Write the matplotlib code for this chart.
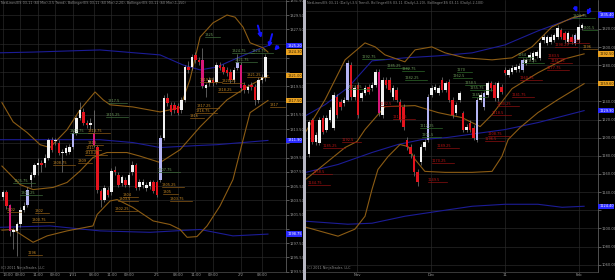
import matplotlib
matplotlib.use('Agg')
import matplotlib.pyplot as plt
import matplotlib.transforms as mtransforms
from matplotlib.patches import Rectangle

# ---------------- LEFT PANEL DATA (ES 03-11, 60 min) ----------------
L_open = [1303.9, 1304.6, 1302.8, 1299.0, 1299.2, 1300.1, 1302.2, 1302.9, 1306.4, 1307.1,
          1308.5, 1308.7, 1308.7, 1309.4, 1312.0, 1311.8, 1311.6, 1310.1, 1310.2, 1310.3,
          1311.0, 1313.0, 1315.0, 1315.9, 1314.4, 1314.1, 1313.0, 1311.0, 1304.8, 1303.6,
          1305.0, 1304.6, 1307.8, 1307.1, 1305.9, 1306.4, 1305.7, 1307.4, 1308.4, 1305.3,
          1305.6, 1305.2, 1305.5, 1306.0, 1306.0, 1306.4, 1312.3, 1317.8, 1316.9, 1316.9,
          1316.8, 1316.2, 1317.6, 1322.2, 1322.2, 1323.9, 1323.2, 1323.2, 1319.3, 1320.0,
          1320.4, 1320.1, 1322.5, 1322.2, 1321.8, 1321.5, 1320.4, 1322.1, 1322.5, 1319.7,
          1319.0, 1319.7, 1319.4, 1317.6, 1320.4, 1320.7]
L_close = [1304.6, 1302.7, 1299.2, 1299.3, 1300.1, 1302.2, 1302.7, 1305.0, 1307.1, 1308.4,
           1308.7, 1308.4, 1309.4, 1312.0, 1310.6, 1312.0, 1310.1, 1310.3, 1310.8, 1311.0,
           1313.0, 1315.0, 1316.2, 1314.4, 1314.1, 1314.3, 1311.3, 1305.0, 1303.6, 1305.2,
           1304.3, 1307.6, 1307.4, 1305.7, 1306.7, 1305.7, 1307.1, 1308.5, 1305.2, 1306.0,
           1306.1, 1305.7, 1306.0, 1304.8, 1304.3, 1312.3, 1317.9, 1317.1, 1315.9, 1316.2,
           1315.8, 1317.6, 1322.2, 1321.8, 1323.6, 1323.2, 1322.9, 1319.6, 1319.7, 1320.4,
           1320.0, 1322.5, 1322.1, 1321.5, 1321.4, 1320.4, 1321.8, 1322.9, 1319.3, 1319.0,
           1319.4, 1319.4, 1317.6, 1320.4, 1320.8, 1323.6]
L_high = [1305.0, 1305.0, 1303.0, 1299.6, 1300.4, 1302.5, 1303.2, 1305.3, 1307.5, 1308.8,
          1309.5, 1309.2, 1310.0, 1312.3, 1312.4, 1312.3, 1312.0, 1310.7, 1311.2, 1311.4,
          1313.3, 1315.3, 1317.3, 1316.5, 1314.8, 1315.0, 1316.2, 1311.3, 1305.1, 1305.6,
          1305.4, 1308.0, 1308.3, 1307.5, 1307.1, 1306.8, 1307.5, 1309.0, 1308.8, 1306.5,
          1306.5, 1306.1, 1306.4, 1306.4, 1306.3, 1312.6, 1318.3, 1318.5, 1317.3, 1317.3,
          1317.2, 1318.0, 1322.5, 1323.0, 1324.0, 1324.3, 1323.6, 1324.9, 1320.0, 1320.8,
          1320.8, 1322.9, 1322.9, 1322.6, 1322.2, 1321.9, 1322.2, 1324.0, 1322.9, 1320.1,
          1319.8, 1320.1, 1319.8, 1320.8, 1321.2, 1324.0]
L_low = [1303.5, 1302.3, 1298.5, 1296.6, 1295.7, 1299.8, 1301.9, 1302.5, 1305.3, 1306.8,
         1307.0, 1307.5, 1308.2, 1309.1, 1310.3, 1311.3, 1309.8, 1307.5, 1309.8, 1310.0,
         1310.7, 1312.7, 1314.7, 1314.1, 1313.6, 1313.5, 1311.0, 1304.5, 1302.5, 1303.3,
         1303.9, 1304.2, 1307.0, 1305.3, 1305.5, 1305.3, 1305.3, 1307.0, 1304.9, 1304.9,
         1305.2, 1304.8, 1305.1, 1304.5, 1303.9, 1306.0, 1312.0, 1316.8, 1315.5, 1315.8,
         1315.4, 1315.8, 1317.3, 1321.4, 1321.8, 1322.8, 1322.5, 1319.3, 1318.0, 1319.6,
         1319.6, 1319.8, 1321.8, 1321.2, 1321.0, 1320.0, 1320.0, 1321.8, 1318.9, 1318.6,
         1318.6, 1319.0, 1316.9, 1317.2, 1320.0, 1320.3]
L_lilac = [7, 20, 45, 67]
L_magenta = [2, 26, 57, 68]

L_bb_up_x = [-0.3, 2.9, 6.9, 10.6, 13.4, 18.3, 22.0, 26.3, 28.6, 30.6, 37.1, 44.9, 50.6, 53.4,
             56.3, 60.0, 64.0, 66.3, 68.6, 70.6, 74.3, 75.7]
L_bb_up_y = [1317.2, 1314.5, 1313.0, 1311.3, 1310.9, 1313.4, 1316.2, 1318.7, 1317.6, 1316.9,
             1316.6, 1315.9, 1316.5, 1320.4, 1326.4, 1328.4, 1329.5, 1329.2, 1327.8, 1325.6,
             1324.9, 1324.3]
L_bb_mid_x = [-0.3, 4.9, 8.6, 14.3, 18.3, 22.0, 25.7, 29.7, 35.4, 39.1, 44.9, 50.6, 56.3, 64.0,
              69.7, 75.7]
L_bb_mid_y = [1308.3, 1305.7, 1305.0, 1305.3, 1306.0, 1307.6, 1309.5, 1310.2, 1310.2, 1309.7,
              1308.8, 1310.6, 1313.8, 1317.6, 1319.4, 1321.0]
L_bb_low_x = [-0.3, 2.9, 8.6, 12.6, 18.3, 25.7, 26.9, 30.6, 32.6, 37.1, 42.9, 47.7, 50.6, 52.6,
              55.4, 58.3, 62.0, 65.7, 68.6, 70.6, 75.7]
L_bb_low_y = [1299.3, 1299.4, 1297.6, 1298.5, 1299.2, 1299.9, 1301.5, 1303.4, 1303.6, 1302.5,
              1300.6, 1300.1, 1299.4, 1298.3, 1298.4, 1299.9, 1302.7, 1306.4, 1312.0, 1315.8,
              1317.5]
L_bl_up_x = [-0.9, 8.6, 27.7, 44.9, 51.4, 56.3, 61.1, 65.7, 73.4, 75.7]
L_bl_up_y = [1324.2, 1324.3, 1324.6, 1323.9, 1322.5, 1321.8, 1322.2, 1323.2, 1324.8, 1325.2]
L_bl_mid_x = [-0.9, 27.7, 37.1, 44.9, 56.3, 61.1, 75.7]
L_bl_mid_y = [1312.0, 1312.0, 1311.6, 1310.9, 1311.2, 1311.3, 1311.9]
L_bl_low_x = [-0.9, 13.4, 27.7, 42.0, 56.3, 65.7, 75.7]
L_bl_low_y = [1299.7, 1299.9, 1299.2, 1299.0, 1299.4, 1298.5, 1298.75]

L_xtick_pos = [0, 5, 10, 15, 20, 26, 31, 36, 44, 50, 55, 60, 68, 74]
L_xtick_lab = ["13:00", "09:00", "11:00", "09:00", "1/31", "08:00", "11:00", "09:00",
               "2/1", "08:00", "11:00", "09:00", "2/2", "08:00"]
L_yticks = [1293.5 + 2 * k for k in range(20)]

L_hi_lab_x = [57.7, 65.4, 70.9, 66.3, 30.0, 29.4, 19.1, 2.9, 4.9, 44.3]
L_hi_lab_y = [1326.4, 1324.2, 1324.2, 1322.9, 1317.1, 1315.2, 1312.9, 1305.9, 1304.2, 1307.4]
L_hi_lab_t = ["1325", "1324.75", "1324.75", "1321.75", "1317.5", "1315.25", "1312.75",
              "1305.75", "1304.25", "1307.75"]
L_lo_lab_x = [56.3, 62.6, 61.4, 69.7, 76.3, 55.4, 54.9, 53.4, 14.3, 21.4, 23.4, 23.7, 24.3,
              24.3, 1.1, 9.1, 8.3, 7.1, 45.4, 45.7, 47.7, 34.3, 32.9, 32.0]
L_lo_lab_y = [1320.1, 1319.9, 1318.7, 1320.8, 1316.6, 1316.4, 1315.8, 1315.1, 1308.4, 1308.7,
              1309.9, 1310.6, 1311.3, 1312.9, 1301.8, 1301.7, 1300.4, 1295.8, 1305.3, 1304.4,
              1303.4, 1303.9, 1303.4, 1302.0]
L_lo_lab_t = ["1319.25", "1320.25", "1318.25", "1321.25", "1317", "1317.25", "1316.75",
              "1316", "1308.75", "1309", "1310.25", "1311", "1313", "1313.75", "1302", "1302",
              "1300.75", "1296", "1305.25", "1305", "1303.75", "1304", "1303.5", "1302.25"]

# ---------------- RIGHT PANEL DATA (ES 03-11, Daily) ----------------
R_open = [1181.5, 1220.0, 1195.8, 1194.7, 1222.2, 1209.0, 1220.0, 1211.2, 1245.3, 1239.8,
          1238.7, 1242.0, 1280.4, 1245.3, 1258.5, 1244.2, 1249.7, 1256.3, 1255.2, 1258.5,
          1272.7, 1225.5, 1264.0, 1264.0, 1245.3, 1253.0, 1239.8, 1234.3, 1198.0, 1190.3,
          1179.3, 1161.8, 1172.7, 1190.3, 1198.0, 1247.5, 1253.0, 1249.7, 1264.0, 1253.0,
          1261.8, 1242.0, 1227.7, 1242.0, 1227.7, 1209.0, 1216.7, 1211.2, 1198.0, 1242.0,
          1234.3, 1247.5, 1260.7, 1258.5, 1244.2, 1256.3, 1274.9, 1269.5, 1272.7, 1274.9,
          1276.0, 1274.9, 1282.6, 1288.1, 1285.9, 1290.3, 1288.1, 1307.9, 1304.6, 1305.7,
          1308.0, 1311.2, 1318.9, 1315.5, 1305.7, 1311.2, 1304.5, 1308.0, 1321.0]
R_close = [1217.8, 1195.8, 1203.5, 1220.0, 1206.8, 1222.2, 1231.0, 1247.5, 1225.5, 1234.3,
           1242.0, 1282.6, 1245.3, 1255.2, 1225.5, 1249.7, 1255.2, 1250.8, 1258.5, 1272.7,
           1227.7, 1264.0, 1258.5, 1253.0, 1255.2, 1242.0, 1220.0, 1212.3, 1190.3, 1181.5,
           1161.8, 1150.8, 1190.3, 1195.8, 1245.3, 1255.2, 1256.3, 1255.2, 1253.0, 1260.7,
           1242.0, 1225.5, 1236.5, 1249.7, 1209.0, 1212.3, 1209.0, 1200.2, 1242.0, 1247.5,
           1249.7, 1260.7, 1255.2, 1244.2, 1260.7, 1250.8, 1271.6, 1274.9, 1277.1, 1278.2,
           1279.3, 1285.9, 1285.9, 1291.4, 1293.6, 1294.7, 1304.6, 1311.2, 1311.2, 1311.2,
           1313.5, 1321.0, 1311.2, 1307.9, 1315.5, 1305.7, 1313.5, 1322.2, 1324.4]
R_high = [1220.0, 1222.0, 1206.0, 1223.0, 1225.0, 1225.0, 1234.0, 1250.0, 1248.0, 1243.0,
          1245.0, 1286.0, 1284.0, 1258.0, 1262.0, 1252.0, 1258.0, 1259.0, 1261.0, 1276.0,
          1276.0, 1267.0, 1267.0, 1267.0, 1258.0, 1256.0, 1243.0, 1237.0, 1201.0, 1193.0,
          1182.0, 1165.0, 1193.0, 1199.0, 1248.0, 1258.0, 1259.0, 1258.0, 1267.0, 1263.0,
          1265.0, 1245.0, 1239.0, 1252.0, 1230.0, 1215.0, 1219.0, 1214.0, 1245.0, 1250.0,
          1252.0, 1263.0, 1263.0, 1261.0, 1263.0, 1259.0, 1278.0, 1277.0, 1280.0, 1281.0,
          1282.0, 1288.0, 1288.0, 1294.0, 1296.0, 1297.0, 1307.0, 1314.0, 1313.0, 1314.0,
          1316.0, 1324.0, 1321.0, 1318.0, 1318.0, 1314.0, 1316.0, 1325.0, 1327.0]
R_low = [1179.0, 1193.0, 1192.0, 1192.0, 1204.0, 1206.0, 1217.0, 1208.0, 1222.0, 1231.0,
         1235.0, 1240.0, 1242.0, 1242.0, 1222.0, 1241.0, 1247.0, 1248.0, 1252.0, 1256.0,
         1224.0, 1222.0, 1255.0, 1250.0, 1242.0, 1239.0, 1217.0, 1209.0, 1187.0, 1178.0,
         1158.0, 1147.0, 1170.0, 1187.0, 1195.0, 1245.0, 1250.0, 1247.0, 1250.0, 1250.0,
         1239.0, 1222.0, 1225.0, 1239.0, 1206.0, 1206.0, 1206.0, 1197.0, 1195.0, 1239.0,
         1231.0, 1245.0, 1252.0, 1241.0, 1241.0, 1248.0, 1269.0, 1267.0, 1270.0, 1272.0,
         1273.0, 1272.0, 1280.0, 1286.0, 1283.0, 1288.0, 1286.0, 1305.0, 1302.0, 1303.0,
         1306.0, 1309.0, 1309.0, 1305.0, 1303.0, 1303.0, 1302.0, 1305.0, 1319.0]
R_lilac = [11, 34, 48, 50, 61, 76]
R_magenta = [20]

R_bb_up_x = [-0.9, 4.6, 10.3, 16.0, 18.9, 21.7, 27.4, 30.3, 35.1, 38.9, 44.6, 52.3, 58.0, 63.7,
             69.4, 75.1, 78.6]
R_bb_up_y = [1206.8, 1242.0, 1285.9, 1304.6, 1300.2, 1291.4, 1283.7, 1296.9, 1300.2, 1293.6,
             1288.1, 1285.9, 1288.1, 1300.2, 1322.2, 1332.1, 1335.4]
R_bb_mid_x = [-0.9, 10.3, 13.7, 16.0, 21.7, 30.3, 36.9, 43.7, 48.9, 52.3, 58.0, 65.4, 73.1, 78.6]
R_bb_mid_y = [1154.1, 1189.2, 1195.8, 1209.0, 1234.3, 1235.4, 1227.7, 1222.2, 1212.3, 1225.5,
              1254.1, 1271.6, 1287.0, 1292.5]
R_bb_low_x = [-0.9, 8.3, 13.1, 16.0, 18.0, 19.7, 22.6, 26.0, 28.3, 30.3, 33.1, 38.9, 46.6, 52.3,
              55.1, 56.9, 60.3, 65.4, 71.1, 78.6]
R_bb_low_y = [1101.3, 1091.4, 1099.1, 1113.4, 1143.0, 1165.0, 1179.3, 1192.5, 1190.3, 1176.0,
              1162.9, 1161.8, 1161.8, 1162.9, 1179.3, 1198.0, 1211.2, 1227.7, 1242.0, 1259.6]
R_bl_up_x = [-0.9, 4.6, 11.1, 18.0, 27.4, 36.9, 46.6, 56.0, 65.4, 73.1, 78.6]
R_bl_up_y = [1224.4, 1236.5, 1255.2, 1284.8, 1288.1, 1290.3, 1293.6, 1302.4, 1317.8, 1328.8,
             1335.4]
R_bl_mid_x = [-0.9, 8.3, 18.0, 25.4, 32.3, 39.4, 56.0, 65.4, 78.6]
R_bl_mid_y = [1161.8, 1170.5, 1183.7, 1192.5, 1198.0, 1200.2, 1209.0, 1216.7, 1229.9]
R_bl_low_x = [-0.9, 11.1, 18.0, 27.4, 36.9, 46.6, 56.0, 65.4, 72.3, 78.6]
R_bl_low_y = [1107.9, 1104.6, 1105.7, 1113.4, 1118.9, 1124.4, 1126.6, 1126.6, 1123.3, 1124.4]

R_xtick_pos = [13.7, 34.9, 56.0, 77.1]
R_xtick_lab = ["Nov", "Dec", "11", "Feb"]
R_yticks = [1060 + 20 * k for k in range(15)]

R_hi_lab_x = [75.4, 78.3, 15.1, 22.3, 26.6, 27.4, 11.1, 42.3, 41.1, 44.6, 46.0, 46.6, 31.7,
              32.3, 59.7, 60.9]
R_hi_lab_y = [1332.1, 1318.9, 1287.0, 1277.1, 1273.8, 1264.0, 1254.1, 1272.8, 1266.0, 1258.5,
              1252.5, 1244.5, 1211.2, 1201.3, 1288.8, 1282.3]
R_hi_lab_t = ["1304.75", "1301.5", "1292.75", "1285.25", "1282.75", "1282.25", "1274.25",
              "1270", "1262.5", "1258.5", "1255.75", "1245", "1212.25", "1201.5", "1264",
              "1270.25"]
R_lo_lab_x = [70.3, 73.7, 68.3, 68.9, 68.0, 60.3, 58.0, 53.7, 52.3, 51.1, 20.3, 24.0, 9.4,
              4.0, 0.9, -0.3, 36.6, 35.1, 34.0, 50.3]
R_lo_lab_y = [1300.2, 1304.6, 1288.1, 1282.6, 1274.9, 1264.0, 1245.3, 1235.4, 1225.5, 1202.4,
              1235.4, 1221.1, 1195.8, 1189.2, 1159.6, 1147.5, 1189.2, 1171.6, 1150.8, 1196.9]
R_lo_lab_t = ["1298.25", "1303.25", "1283.5", "1281.25", "1277.75", "1260.75", "1241.75",
              "1230.25", "1218.5", "1208.75", "1232.5", "1210.25", "1192.5", "1185.25",
              "1158.5", "1144.75", "1189.25", "1170.25", "1149.5", "1196.5"]
R_or_lab_x = [78.3]
R_or_lab_y = [1298.0]
R_or_lab_t = ["1296"]

# ---------------- STYLE ----------------
BG = 'black'
GRID = '#2c2c2c'
TXT = '#9a9a9a'
ORANGE = '#8c5c14'
BLUE = '#1c1c96'
WHITE_C = '#f2f2f2'
RED_C = '#e4141e'
LILAC_C = '#b4b4f4'
MAG_C = '#d8187a'
GREEN_T = '#6f9c5c'
ORANGE_T = '#c88a26'
RED_T = '#c01414'

fig = plt.figure(figsize=(6.15, 2.8), dpi=100, facecolor=BG)
fig.patches.append(Rectangle((302.5 / 615, 0), 3 / 615, 1, transform=fig.transFigure,
                             facecolor='#b8b8c4', edgecolor='none', zorder=10))

def setup(ax, xlim, ylim, yticks, xpos, xlab, fmt, marker_vals, hide_tol):
    ax.set_facecolor(BG)
    ax.set_xlim(*xlim)
    ax.set_ylim(*ylim)
    ax.yaxis.tick_right()
    ax.set_yticks(yticks)
    # tick labels that sit under a value box are hidden by that box
    ax.set_yticklabels(['' if any(abs(v - m) < hide_tol for m in marker_vals) else fmt % v
                        for v in yticks])
    ax.set_xticks(xpos)
    ax.set_xticklabels(xlab)
    ax.tick_params(axis='y', labelsize=2.6, colors=TXT, length=1.8, width=0.4, pad=0.6)
    ax.tick_params(axis='x', labelsize=2.7, colors=TXT, length=0, pad=1.0)
    for s in ['top', 'left']:
        ax.spines[s].set_visible(False)
    ax.spines['right'].set_color('#707070')
    ax.spines['right'].set_linewidth(0.5)
    ax.spines['bottom'].set_color('#505050')
    ax.spines['bottom'].set_linewidth(0.5)
    for v in yticks:
        ax.axhline(v, color=GRID, lw=0.45, zorder=0)
    for p in xpos:
        ax.axvline(p, color=GRID, lw=0.45, zorder=0)

def candles(ax, O, Hh, Ll, C, lilac, magenta, width, mindiff):
    n = len(O)
    xs = list(range(n))
    ax.vlines(xs, Ll, Hh, color='#8a8a8a', lw=0.45, zorder=2)
    for i in range(n):
        o, c = O[i], C[i]
        if i in lilac:
            col = LILAC_C
        elif i in magenta:
            col = MAG_C
        elif c >= o:
            col = WHITE_C
        else:
            col = RED_C
        lo = min(o, c)
        h = max(abs(c - o), mindiff)
        ax.bar(i, h, bottom=lo, width=width, color=col, edgecolor='none', zorder=3)

def labels(ax, xs, ys, ts, color, ucolor, fs=2.5):
    for x, y, t in zip(xs, ys, ts):
        ax.text(x, y, t, fontsize=fs, color=color, ha='left', va='bottom', zorder=5,
                clip_on=True)
        ax.plot([x, x + (len(t) * 2.4 + 5) / 3.5], [y, y], color=ucolor, lw=0.5, zorder=4)

def marker(ax, val, fc, tc):
    tr = mtransforms.blended_transform_factory(ax.transAxes, ax.transData)
    ax.text(1.004, val, '%.2f' % val, transform=tr, fontsize=2.5, color=tc, ha='left',
            va='center', clip_on=False, zorder=20,
            bbox=dict(boxstyle='square,pad=0.2', fc=fc, ec='none'))

# ---------------- LEFT PANEL ----------------
L_markers = [L_bl_up_y[-1], L_bb_up_y[-1], L_bb_mid_y[-1], L_bb_low_y[-1], L_bl_mid_y[-1],
             L_bl_low_y[-1]]
axL = fig.add_axes([0, 8 / 280, 286 / 615, 272 / 280])
setup(axL, (-0.857, 80.86), (1293.43, 1331.61), L_yticks, L_xtick_pos, L_xtick_lab, '%.2f',
      L_markers, 0.85)
axL.get_xticklabels()[0].set_horizontalalignment('left')
axL.plot(L_bl_up_x, L_bl_up_y, color=BLUE, lw=0.8, zorder=1)
axL.plot(L_bl_mid_x, L_bl_mid_y, color=BLUE, lw=0.8, zorder=1)
axL.plot(L_bl_low_x, L_bl_low_y, color=BLUE, lw=0.8, zorder=1)
axL.plot(L_bb_up_x, L_bb_up_y, color=ORANGE, lw=0.8, zorder=1)
axL.plot(L_bb_mid_x, L_bb_mid_y, color=ORANGE, lw=0.8, zorder=1)
axL.plot(L_bb_low_x, L_bb_low_y, color=ORANGE, lw=0.8, zorder=1)
candles(axL, L_open, L_high, L_low, L_close, L_lilac, L_magenta, 0.62, 0.12)
labels(axL, L_hi_lab_x, L_hi_lab_y, L_hi_lab_t, GREEN_T, '#3d6a3a')
labels(axL, L_lo_lab_x, L_lo_lab_y, L_lo_lab_t, ORANGE_T, '#8a5a16')
marker(axL, L_bl_up_y[-1], '#2a2aff', 'white')
marker(axL, L_bb_up_y[-1], '#e8a020', '#302000')
marker(axL, L_bb_mid_y[-1], '#e8a020', '#302000')
marker(axL, L_bb_low_y[-1], '#e8a020', '#302000')
marker(axL, L_bl_mid_y[-1], '#2a2aff', 'white')
marker(axL, L_bl_low_y[-1], '#2a2aff', 'white')
axL.text(0.003, 0.997, 'NetLines(ES 03-11 (60 Min),3.5 Trend), Bollinger(ES 03-11 (60 Min),2,20), '
         'Bollinger(ES 03-11 (60 Min),1,150)', transform=axL.transAxes, fontsize=2.4,
         color='#8a8a8a', ha='left', va='top')
axL.text(0.004, 0.008, '(C) 2011 NinjaTrader, LLC', transform=axL.transAxes, fontsize=2.4,
         color='#8a8a8a', ha='left', va='bottom')
for (x0, y0, x1, y1) in [(72.6, 1328.4, 74.0, 1325.9), (77.1, 1327.2, 75.7, 1324.6),
                         (79.1, 1325.4, 77.0, 1324.2)]:
    axL.annotate('', xy=(x1, y1), xytext=(x0, y0),
                 arrowprops=dict(arrowstyle='-|>', color='#1414ff', lw=1.4, mutation_scale=5),
                 zorder=8)

# ---------------- RIGHT PANEL ----------------
R_markers = [R_bl_up_y[-1], R_bb_mid_y[-1], R_bb_low_y[-1], R_bl_mid_y[-1], R_bl_low_y[-1]]
axR = fig.add_axes([306 / 615, 8 / 280, 292 / 615, 272 / 280])
setup(axR, (-0.857, 82.57), (1051.9, 1351.9), R_yticks, R_xtick_pos, R_xtick_lab, '%.2f',
      R_markers, 6.5)
axR.plot(R_bl_up_x, R_bl_up_y, color=BLUE, lw=0.8, zorder=1)
axR.plot(R_bl_mid_x, R_bl_mid_y, color=BLUE, lw=0.8, zorder=1)
axR.plot(R_bl_low_x, R_bl_low_y, color=BLUE, lw=0.8, zorder=1)
axR.plot(R_bb_up_x, R_bb_up_y, color=ORANGE, lw=0.8, zorder=1)
axR.plot(R_bb_mid_x, R_bb_mid_y, color=ORANGE, lw=0.8, zorder=1)
axR.plot(R_bb_low_x, R_bb_low_y, color=ORANGE, lw=0.8, zorder=1)
candles(axR, R_open, R_high, R_low, R_close, R_lilac, R_magenta, 0.62, 1.0)
labels(axR, R_hi_lab_x, R_hi_lab_y, R_hi_lab_t, GREEN_T, '#2f6a2a')
labels(axR, R_lo_lab_x, R_lo_lab_y, R_lo_lab_t, RED_T, '#8a1010')
labels(axR, R_or_lab_x, R_or_lab_y, R_or_lab_t, ORANGE_T, '#8a5a16')
marker(axR, R_bl_up_y[-1], '#2a2aff', 'white')
marker(axR, R_bb_mid_y[-1], '#e8a020', '#302000')
marker(axR, R_bb_low_y[-1], '#e8a020', '#302000')
marker(axR, R_bl_mid_y[-1], '#2a2aff', 'white')
marker(axR, R_bl_low_y[-1], '#2a2aff', 'white')
axR.text(0.003, 0.997, 'NetLines(ES 03-11 (Daily),3.5 Trend), Bollinger(ES 03-11 (Daily),2,20), '
         'Bollinger(ES 03-11 (Daily),2,100)', transform=axR.transAxes, fontsize=2.4,
         color='#8a8a8a', ha='left', va='top')
axR.text(0.004, 0.008, '(C) 2011 NinjaTrader, LLC', transform=axR.transAxes, fontsize=2.4,
         color='#8a8a8a', ha='left', va='bottom')
for (x0, y0, x1, y1) in [(75.7, 1347.0, 76.9, 1335.5), (80.6, 1345.0, 79.1, 1332.5)]:
    axR.annotate('', xy=(x1, y1), xytext=(x0, y0),
                 arrowprops=dict(arrowstyle='-|>', color='#1414ff', lw=1.4, mutation_scale=5),
                 zorder=8)

fig.savefig('out.png', dpi=100, facecolor=BG)
